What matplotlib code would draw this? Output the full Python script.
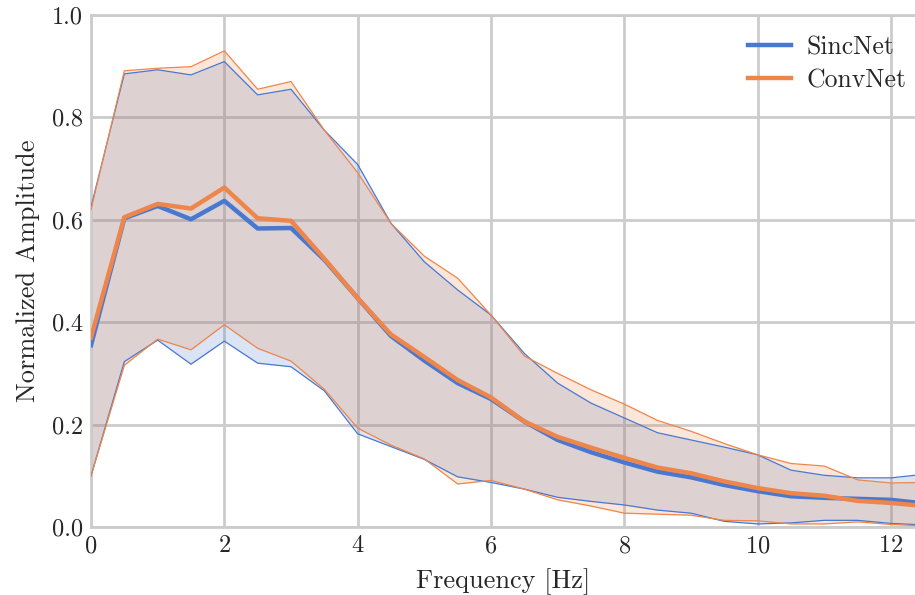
import matplotlib
matplotlib.use("Agg")
import matplotlib.pyplot as plt
import numpy as np

freq = [0, 0.5, 1, 1.5, 2, 2.5, 3, 3.5, 4, 4.5, 5, 5.5, 6, 6.5, 7, 7.5, 8, 8.5,
        9, 9.5, 10, 10.5, 11, 11.5, 12, 12.5]

sinc_mean = [0.355, 0.603, 0.627, 0.601, 0.637, 0.583, 0.584, 0.522, 0.447, 0.373,
             0.325, 0.281, 0.250, 0.206, 0.170, 0.146, 0.126, 0.108, 0.097, 0.082,
             0.070, 0.060, 0.057, 0.055, 0.053, 0.046]
conv_mean = [0.370, 0.605, 0.631, 0.622, 0.663, 0.603, 0.598, 0.524, 0.447, 0.376,
             0.332, 0.287, 0.253, 0.206, 0.176, 0.155, 0.135, 0.116, 0.105, 0.089,
             0.076, 0.066, 0.061, 0.051, 0.047, 0.041]
sinc_upper = [0.625, 0.885, 0.893, 0.883, 0.909, 0.844, 0.855, 0.775, 0.708, 0.593,
              0.518, 0.463, 0.414, 0.339, 0.281, 0.242, 0.213, 0.184, 0.170, 0.156,
              0.141, 0.111, 0.101, 0.096, 0.096, 0.103]
conv_upper = [0.620, 0.891, 0.896, 0.899, 0.930, 0.855, 0.870, 0.775, 0.692, 0.593,
              0.529, 0.486, 0.414, 0.334, 0.300, 0.268, 0.240, 0.208, 0.187, 0.163,
              0.141, 0.124, 0.119, 0.092, 0.086, 0.087]
sinc_lower = [0.100, 0.323, 0.365, 0.318, 0.363, 0.320, 0.313, 0.266, 0.182, 0.157,
              0.132, 0.098, 0.087, 0.074, 0.058, 0.050, 0.043, 0.033, 0.027, 0.011,
              0.006, 0.008, 0.013, 0.013, 0.007, 0.004]
conv_lower = [0.100, 0.316, 0.367, 0.346, 0.395, 0.349, 0.324, 0.269, 0.193, 0.160,
              0.133, 0.084, 0.091, 0.074, 0.053, 0.041, 0.027, 0.025, 0.023, 0.013,
              0.012, 0.006, 0.006, 0.010, 0.005, 0.002]

labels = ["SincNet", "ConvNet"]
colors = ["#4878d0", "#ee854a"]

plt.rcParams["font.family"] = "serif"
plt.rcParams["font.serif"] = ["cmr10", "DejaVu Serif"]
plt.rcParams["mathtext.fontset"] = "cm"
plt.rcParams["axes.unicode_minus"] = False
plt.rcParams["axes.formatter.use_mathtext"] = True

fig = plt.figure(figsize=(9.15, 5.95), dpi=100)
ax = fig.add_axes([91 / 915, (595 - 527) / 595, (915 - 91) / 915, 512 / 595])

series = [(sinc_mean, sinc_lower, sinc_upper), (conv_mean, conv_lower, conv_upper)]
for (m, lo, hi), lab, c in zip(series, labels, colors):
    ax.fill_between(freq, lo, hi, color=c, alpha=0.2, linewidth=0, zorder=2)
    ax.plot(freq, lo, color=c, lw=0.9, zorder=3)
    ax.plot(freq, hi, color=c, lw=0.9, zorder=3)
    ax.plot(freq, m, color=c, lw=3.2, label=lab, zorder=4)

ax.set_xlim(0, 12.36)
ax.set_ylim(0, 1.0)
ax.set_xticks([0, 2, 4, 6, 8, 10, 12])
ax.set_yticks([0.0, 0.2, 0.4, 0.6, 0.8, 1.0])
ax.set_yticklabels(["0.0", "0.2", "0.4", "0.6", "0.8", "1.0"])
ax.grid(True, color="#cccccc", linewidth=2.0, zorder=1)
ax.set_axisbelow(True)
for s in ["left", "bottom", "top"]:
    ax.spines[s].set_color("#cccccc")
    ax.spines[s].set_linewidth(2.0)
ax.spines["right"].set_visible(False)
ax.tick_params(axis="both", length=0, labelsize=17.5, pad=6, colors="#262626")
ax.set_xlabel("Frequency [Hz]", fontsize=19, color="#262626", labelpad=8)
ax.set_ylabel("Normalized Amplitude", fontsize=19, color="#262626", labelpad=8)

leg = ax.legend(loc="upper right", frameon=False, fontsize=18.5, handlelength=1.7,
                bbox_to_anchor=(1.018, 1.005), labelspacing=0.35, handletextpad=0.6)
for t in leg.get_texts():
    t.set_color("#262626")

fig.savefig("out.png", dpi=100)
